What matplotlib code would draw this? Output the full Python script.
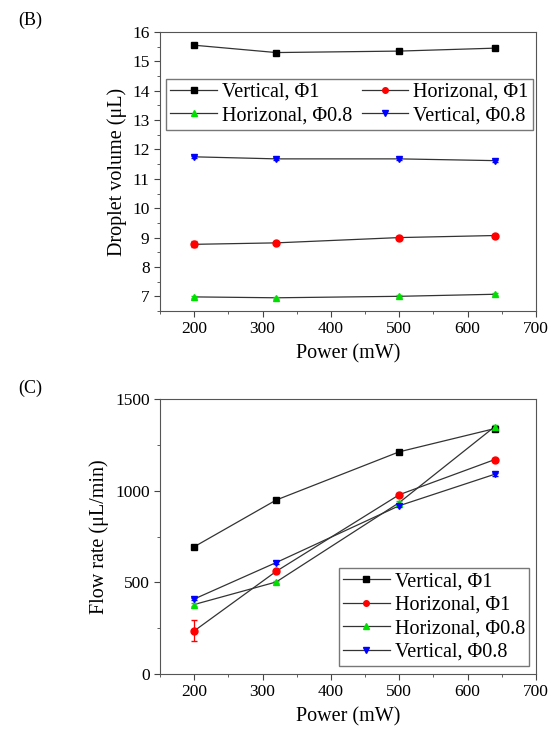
import matplotlib.pyplot as plt
import numpy as np

plt.rcParams['font.family'] = ['Liberation Serif', 'DejaVu Serif']

power = [200, 320, 500, 640]
labels = ["Vertical, Φ1", "Horizonal, Φ1", "Horizonal, Φ0.8", "Vertical, Φ0.8"]
colors = ["black", "red", "#00e000", "blue"]
markers = ["s", "o", "^", "v"]

# (B) droplet volume (uL)
vol_v1 = [15.55, 15.30, 15.35, 15.45]
vol_h1 = [8.77, 8.82, 9.00, 9.07]
vol_h08 = [6.98, 6.95, 7.00, 7.07]
vol_v08 = [11.75, 11.68, 11.68, 11.62]
vol_err = [[0.03, 0.03, 0.03, 0.03],
           [0.10, 0.04, 0.04, 0.04],
           [0.03, 0.03, 0.03, 0.03],
           [0.03, 0.03, 0.03, 0.03]]

# (C) flow rate (uL/min)
flow_v1 = [694, 949, 1212, 1339]
flow_h1 = [235, 560, 978, 1170]
flow_h08 = [379, 502, 935, 1350]
flow_v08 = [409, 608, 918, 1090]
flow_err = [[8, 8, 10, 8],
            [57, 10, 10, 10],
            [8, 8, 8, 8],
            [8, 8, 8, 8]]

fig = plt.figure(figsize=(5.51, 7.31), dpi=100)
axB = fig.add_axes([160/551, 1-311/731, 376/551, 279/731])
axC = fig.add_axes([160/551, 1-674/731, 376/551, 275/731])

leg_kw = dict(fontsize=14.5, frameon=True, fancybox=False, edgecolor="#555555",
              handlelength=2.3, handletextpad=0.25, labelspacing=0.22,
              borderpad=0.2, borderaxespad=0)


def draw(ax, series, errs):
    handles = []
    for ys, e, lab, c, m in zip(series, errs, labels, colors, markers):
        ax.plot(power, ys, color="#333333", lw=0.9, zorder=2)
        ax.errorbar(power, ys, yerr=e, fmt=m, color=c, ms=5, capsize=2,
                    elinewidth=0.9, zorder=3)
        h, = ax.plot([], [], color="#333333", lw=0.9, marker=m, mfc=c, mec=c,
                     ms=4, label=lab)
        handles.append(h)
    ax.set_xlim(150, 700)
    ax.set_xticks([200, 300, 400, 500, 600, 700])
    ax.set_xticks(np.arange(150, 701, 50), minor=True)
    ax.tick_params(labelsize=12.5, direction="out", length=4, color="#444444")
    ax.tick_params(which="minor", length=2.5, color="#444444")
    for s in ax.spines.values():
        s.set_color("#555555")
    ax.set_xlabel("Power (mW)", fontsize=14.5, labelpad=5)
    return handles


hB = draw(axB, [vol_v1, vol_h1, vol_h08, vol_v08], vol_err)
axB.set_ylim(6.5, 16)
axB.set_yticks(range(7, 17))
axB.set_yticks(np.arange(6.5, 16.01, 0.5), minor=True)
axB.set_ylabel("Droplet volume (μL)", fontsize=14.5, labelpad=4)
order = [0, 2, 1, 3]
axB.legend([hB[i] for i in order], [labels[i] for i in order], ncol=2,
           loc="upper left", bbox_to_anchor=(0.017, 0.832),
           columnspacing=0.5, **leg_kw)

draw(axC, [flow_v1, flow_h1, flow_h08, flow_v08], flow_err)
axC.set_ylim(0, 1500)
axC.set_yticks([0, 500, 1000, 1500])
axC.set_yticks(np.arange(0, 1501, 250), minor=True)
axC.set_ylabel("Flow rate (μL/min)", fontsize=14.5, labelpad=4)
axC.legend(loc="lower right", bbox_to_anchor=(0.981, 0.03), **leg_kw)

fig.text(18/551, 1-20/731, "(B)", fontsize=13, va="center")
fig.text(18/551, 1-388/731, "(C)", fontsize=13, va="center")

fig.savefig("out.png", dpi=100)
